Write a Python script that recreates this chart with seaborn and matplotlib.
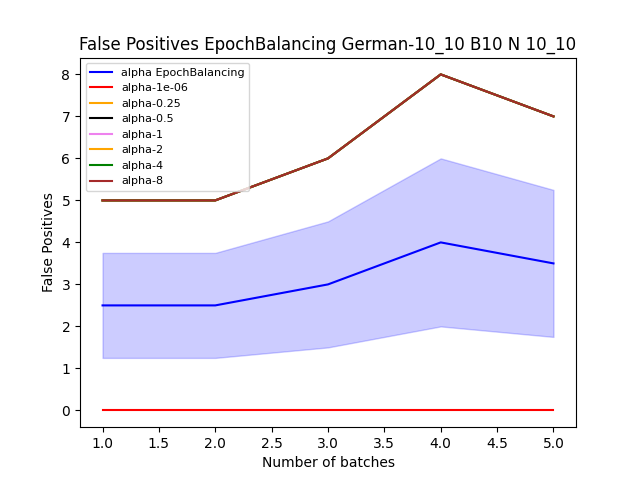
import matplotlib
matplotlib.use("Agg")
import matplotlib.pyplot as plt
import pandas as pd
import seaborn as sns

batches = [1, 2, 3, 4, 5]
eb_mean = [2.5, 2.5, 3.0, 4.0, 3.5]
eb_low = [1.25, 1.25, 1.5, 2.0, 1.75]
eb_high = [3.75, 3.75, 4.5, 6.0, 5.25]

alpha_labels = ["alpha-1e-06", "alpha-0.25", "alpha-0.5", "alpha-1", "alpha-2", "alpha-4", "alpha-8"]
alpha_colors = ["red", "orange", "black", "violet", "orange", "green", "brown"]
alpha_values = [
    [0, 0, 0, 0, 0],
    [5, 5, 6, 8, 7],
    [5, 5, 6, 8, 7],
    [5, 5, 6, 8, 7],
    [5, 5, 6, 8, 7],
    [5, 5, 6, 8, 7],
    [5, 5, 6, 8, 7],
]

fig, ax = plt.subplots(figsize=(6.4, 4.8), dpi=100)

eb = pd.DataFrame({"batch": batches, "fp": eb_mean})
sns.lineplot(data=eb, x="batch", y="fp", color="blue", label="alpha EpochBalancing", ax=ax)
ax.fill_between(batches, eb_low, eb_high, color="blue", alpha=0.2)

for label, color, vals in zip(alpha_labels, alpha_colors, alpha_values):
    d = pd.DataFrame({"batch": batches, "fp": vals})
    sns.lineplot(data=d, x="batch", y="fp", color=color, label=label, ax=ax)

ax.set_title("False Positives EpochBalancing German-10_10 B10 N 10_10")
ax.set_xlabel("Number of batches")
ax.set_ylabel("False Positives")
ax.legend(loc="upper left", fontsize=8)

fig.savefig("out.png", dpi=100)
